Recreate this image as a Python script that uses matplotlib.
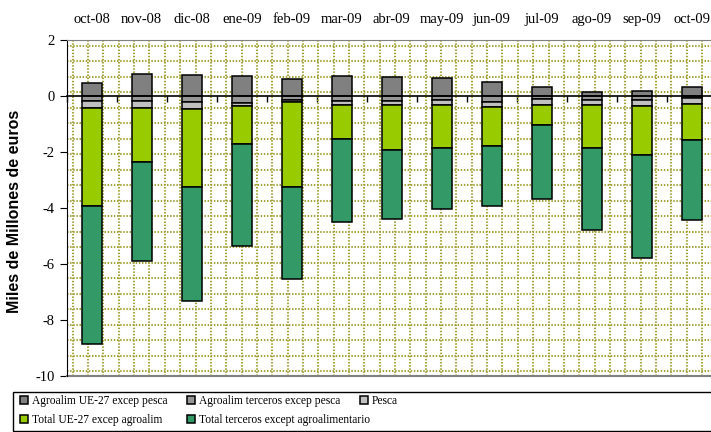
import numpy as np
import matplotlib.pyplot as plt
from matplotlib.patches import Rectangle

plt.rcParams['font.family'] = 'Liberation Serif'
plt.rcParams['axes.unicode_minus'] = False

# datos (miles de millones de euros)
meses = ['oct-08', 'nov-08', 'dic-08', 'ene-09', 'feb-09', 'mar-09', 'abr-09',
         'may-09', 'jun-09', 'jul-09', 'ago-09', 'sep-09', 'oct-09']
agro_ue = [0.45, 0.78, 0.74, 0.70, 0.60, 0.73, 0.67, 0.63, 0.50, 0.32, 0.14, 0.18, 0.32]
agro_terceros = [-0.18, -0.18, -0.22, -0.24, -0.14, -0.18, -0.18, -0.14, -0.20, -0.12, -0.15, -0.14, -0.06]
pesca = [-0.26, -0.24, -0.23, -0.12, -0.08, -0.15, -0.13, -0.18, -0.18, -0.19, -0.17, -0.22, -0.24]
total_ue = [-3.49, -1.94, -2.79, -1.34, -3.04, -1.19, -1.61, -1.54, -1.42, -0.74, -1.54, -1.73, -1.26]
total_terceros = [-4.92, -3.55, -4.07, -3.67, -3.26, -2.99, -2.48, -2.19, -2.13, -2.64, -2.94, -3.71, -2.88]

fig = plt.figure(figsize=(7.11, 4.32), dpi=100)
ax = fig.add_axes([66.7 / 711, 1 - 376 / 432, 650 / 711, 336 / 432])

x = np.arange(len(meses))
w = 0.4
barras = {}
barras['a'] = ax.bar(x, agro_ue, w, color='#808080', edgecolor='black', lw=1.1,
                     label='Agroalim UE-27 excep pesca', zorder=3)
base = np.zeros(len(meses))
series = [
    ('b', agro_terceros, '#969696', 'Agroalim terceros excep pesca'),
    ('p', pesca, '#c0c0c0', 'Pesca'),
    ('u', total_ue, '#99cc00', 'Total UE-27 excep agroalim'),
    ('t', total_terceros, '#339966', 'Total terceros except agroalimentario'),
]
for k, vals, col, lab in series:
    barras[k] = ax.bar(x, vals, w, bottom=base, color=col, edgecolor='black', lw=1.1,
                       label=lab, zorder=3)
    base = base + np.array(vals)

ax.set_xlim(-0.5, 12.5)
ax.set_ylim(-10, 2)

# rejilla punteada
gx = -0.38 + 0.307 * np.arange(42)
gy = -9.83 + (11.63 / 21) * np.arange(22)
ax.set_xticks(gx, minor=True)
ax.set_yticks(gy, minor=True)
ax.tick_params(which='minor', length=0)
ax.grid(which='minor', color='#a3a33c', lw=1.5, linestyle=(0, (0.7, 0.8)), zorder=0)
ax.set_axisbelow(True)

# ejes
ax.spines['right'].set_visible(False)
ax.spines['top'].set_color('#808080')
ax.spines['left'].set_color('black')
ax.spines['bottom'].set_position(('data', 0))
ax.spines['bottom'].set_linewidth(1.2)
ax.spines['bottom'].set_zorder(4)
ax.axhline(-10, color='#808080', lw=1.5, clip_on=False)

ax.set_xticks(np.arange(-0.5, 13, 1))
ax.set_xticklabels([])
ax.tick_params(axis='x', which='major', direction='out', length=4, width=1)
ax.set_yticks(range(-10, 3, 2))
ax.tick_params(axis='y', which='major', direction='out', length=5, labelsize=10.5)

secax = ax.secondary_xaxis('top')
secax.set_xticks(x, labels=meses)
secax.tick_params(length=0, pad=10, labelsize=10.5)
secax.spines['top'].set_visible(False)

ax.set_ylabel('Miles de Millones de euros', family='Liberation Sans', fontweight='bold',
              fontsize=11.5)
ax.yaxis.set_label_coords(-0.069, 0.49)

# leyenda
cols = [(['a', 'u'], 20), (['b', 't'], 187), (['p'], 360)]
for keys, px in cols:
    fig.legend(handles=[barras[k] for k in keys], loc='upper left',
               bbox_to_anchor=(px / 711, 1 - 395 / 432), frameon=False,
               borderpad=0, borderaxespad=0, fontsize=8.3, handlelength=0.7,
               handleheight=0.7, handletextpad=0.3, labelspacing=0.6)
fig.add_artist(Rectangle((13 / 711, 1 / 432), 720 / 711, 39 / 432,
                         transform=fig.transFigure, fill=False, edgecolor='black', lw=1))

fig.savefig('out.png', dpi=100)
